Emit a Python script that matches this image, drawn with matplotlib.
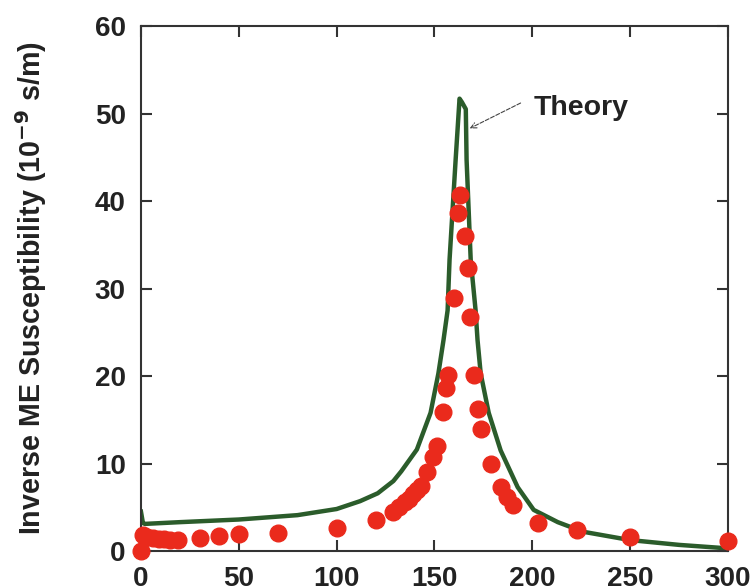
import matplotlib.pyplot as plt

# measured data (red circles)
temp_exp = [0, 1, 3, 6, 9, 12, 15, 19, 30, 40, 50, 70, 100, 120,
            129, 132, 135, 137, 139, 141, 143, 146, 149, 151.5, 154.6, 156, 157,
            159.8, 161.8, 162.8, 165.4, 166.9, 168, 170, 172, 174, 178.7,
            183.8, 187, 190, 202.7, 223, 250, 300]
chi_exp = [0, 1.8, 1.6, 1.5, 1.4, 1.4, 1.3, 1.3, 1.5, 1.7, 1.9, 2.1, 2.6, 3.5,
           4.5, 5.0, 5.6, 6.0, 6.5, 7.0, 7.4, 9.0, 10.7, 12.0, 15.9, 18.6, 20.1,
           28.9, 38.6, 40.7, 36.0, 32.3, 26.7, 20.1, 16.2, 14.0, 9.9,
           7.3, 6.2, 5.3, 3.2, 2.4, 1.6, 1.2]

# theory curve (green line)
temp_th = [0, 1, 2, 20, 50, 80, 100, 112, 121, 129, 133, 141, 148, 152, 154.6,
           156.7, 157.7, 160.8, 162.8, 164, 166, 166.4, 168.5, 171, 172, 173.6,
           177.7, 183.8, 192.5, 200.7, 213, 226, 250, 275, 300]
chi_th = [4.5, 3.2, 3.1, 3.3, 3.6, 4.1, 4.8, 5.7, 6.6, 8.0, 9.1, 11.6, 15.8, 20.3, 24.1,
          27.5, 33.3, 44.7, 51.7, 51.3, 50.5, 44.7, 33.3, 27.5, 24.1, 20.3,
          15.8, 11.5, 7.3, 4.7, 3.3, 2.2, 1.25, 0.7, 0.3]

plt.rcParams['font.family'] = ['Liberation Sans', 'DejaVu Sans']
plt.rcParams['font.weight'] = 'bold'
plt.rcParams['mathtext.default'] = 'bf'

fig = plt.figure(figsize=(7.51, 5.86), dpi=100)
ax = fig.add_axes([0.1877, 0.0597, 0.7817, 0.8959])

ax.plot(temp_th, chi_th, color='#2b5c2b', lw=3.2, zorder=2, solid_joinstyle='round')
ax.plot(temp_exp, chi_exp, 'o', color='#ea2a1c', ms=12, mec='#ea2a1c',
        clip_on=False, zorder=3)

ax.set_xlim(0, 300)
ax.set_ylim(0, 60)
ax.set_xticks(range(0, 301, 50))
ax.set_yticks(range(0, 61, 10))
ax.tick_params(direction='in', length=8, width=1.5, top=True, right=True,
               labelsize=20, pad=11, color='#333333', labelcolor='#222222')
for lab in ax.get_xticklabels() + ax.get_yticklabels():
    lab.set_fontweight('bold')
for sp in ax.spines.values():
    sp.set_linewidth(1.5)
    sp.set_color('#333333')

ax.set_ylabel('Inverse ME Susceptibility (10$^{-9}$ s/m)',
              fontsize=20.6, fontweight='bold', labelpad=33, color='#222222')

# label and arrow pointing at the theory peak
ax.text(200.7, 49.8, 'Theory', fontsize=20.5, fontweight='bold',
        color='#222222', va='baseline')
ax.annotate('', xy=(168, 48.3), xytext=(194, 51.2),
            arrowprops=dict(arrowstyle='->', color='#444444', lw=0.8,
                            linestyle='--', shrinkA=0, shrinkB=0))

fig.savefig('out.png', dpi=100)
